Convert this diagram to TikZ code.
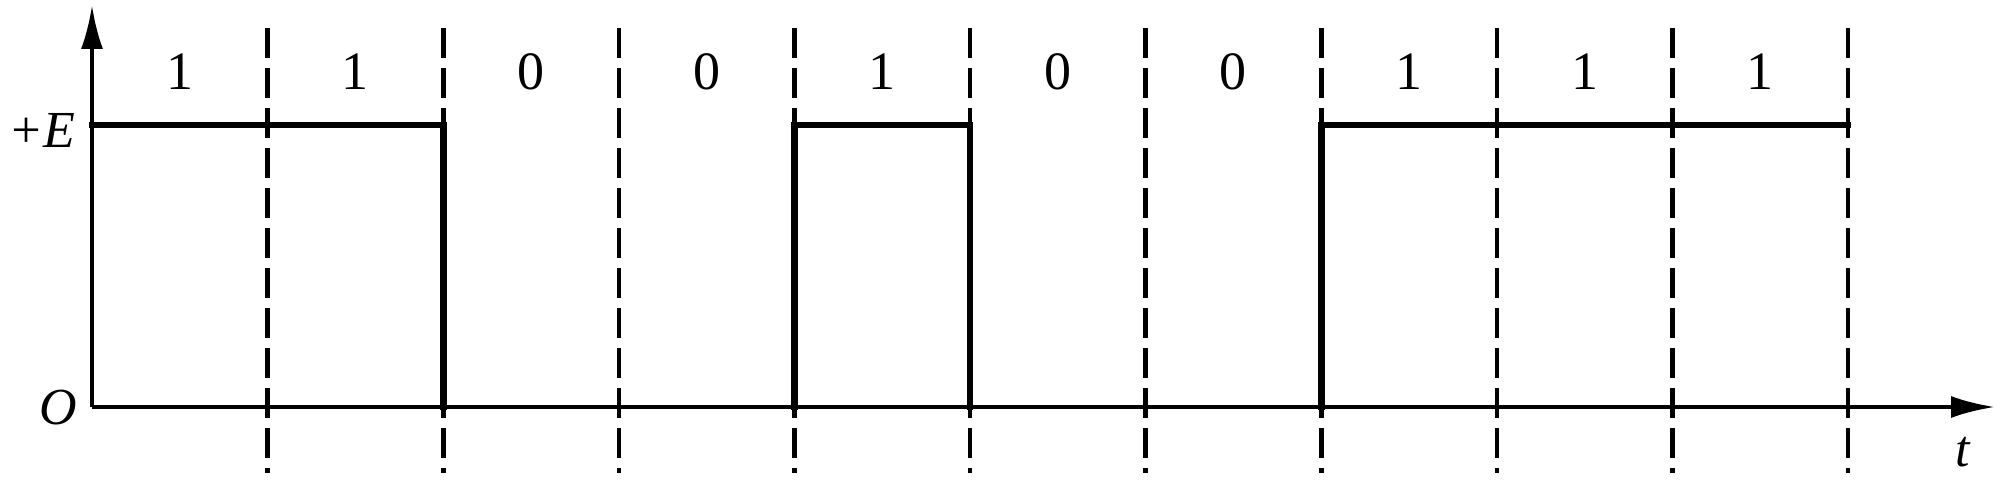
\documentclass[tikz,border=0pt]{standalone}
\usepackage{fontspec}
\setmainfont{Liberation Serif}
\usetikzlibrary{arrows.meta}
\begin{document}
\begin{tikzpicture}[x=0.5pt,y=-0.5pt,
  axis/.style={line width=2.1pt,-{Latex[length=22pt,width=11pt]}},
  sig/.style={line width=3.4pt,line cap=rect},
  grid/.style={line width=2.3pt,dash pattern=on 15pt off 5pt},
  bit/.style={font=\fontsize{27}{30}\selectfont,inner sep=0pt},
  lab/.style={font=\fontsize{26}{30}\selectfont\itshape,inner sep=0pt}]
\useasboundingbox (0,0) rectangle (2002,496);
\fill[white] (0,0) rectangle (2002,496);
% axes
\coordinate (o) at (92,407);
\coordinate (ytop) at (92,5);
\coordinate (xend) at (1995,407);
\draw[axis] (o) -- (ytop);
\draw[axis] (o) -- (xend);
% dashed grid
\foreach \k in {1,...,10} {
  \draw[grid] (92+175.6*\k,28) -- (92+175.6*\k,473);
}
% bits
\foreach \b [count=\k from 0] in {1,1,0,0,1,0,0,1,1,1} {
  \node[bit] (b\k) at (92+175.6*\k+87.8,72) {\b};
}
% signal
\draw[sig] (92,125) -- (443.2,125) -- (443.2,407);
\draw[sig] (794.4,407) -- (794.4,125) -- (970,125) -- (970,407);
\draw[sig] (1321.2,407) -- (1321.2,125) -- (1848,125);
% labels
\node[lab] (E) at (42,130) {+\textit{E}};
\node[lab] (O) at (58,408) {O};
\node[lab] (t) at (1963,452) {t};
\end{tikzpicture}
\end{document}
